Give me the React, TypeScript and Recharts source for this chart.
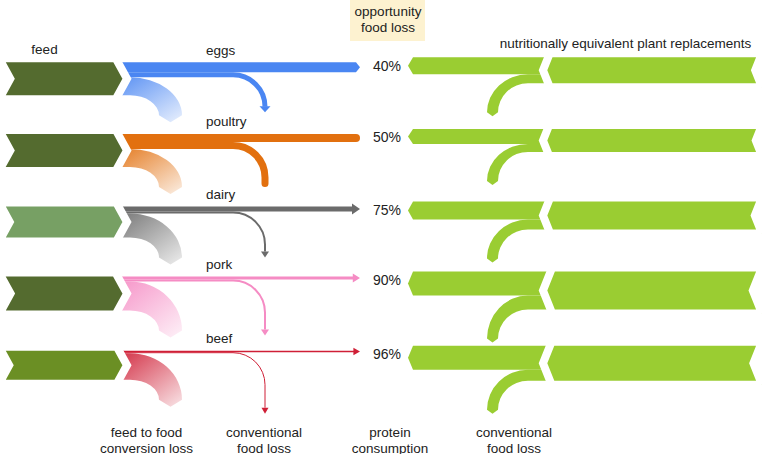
import { ScatterChart, Scatter, XAxis, YAxis } from "recharts";

// rows, top to bottom
const animals = ["eggs", "poultry", "dairy", "pork", "beef"];
// opportunity food loss, %
const opportunityLoss = [40, 50, 75, 90, 96];
// band widths (protein units)
const animalProtein = [10, 8, 5, 3, 1.5];
const animalFoodLoss = [5, 7, 2, 2, 1];
const conversionLoss = [18, 18, 24, 29, 26.5];
const plantProtein = [17, 15, 18, 24, 24];
const plantFoodLoss = [9, 8, 10, 14, 11];

// stages along the flow (x axis)
const stages = ["feed", "conversion", "animalLoss", "consumption", "plantLoss", "plant"];
const topLabels: Record<string, string[]> = {
  feed: ["feed"],
  consumption: ["opportunity", "food loss"],
  plant: ["nutritionally equivalent plant replacements"],
};
const bottomLabels: Record<string, string[]> = {
  conversion: ["feed to food", "conversion loss"],
  animalLoss: ["conventional", "food loss"],
  consumption: ["protein", "consumption"],
  plantLoss: ["conventional", "food loss"],
};

const rows = animals.map((animal, i) => ({
  animal,
  opportunity: opportunityLoss[i],
  protein: animalProtein[i],
  foodLoss: animalFoodLoss[i],
  conversion: conversionLoss[i],
  feed: animalProtein[i] + animalFoodLoss[i] + conversionLoss[i],
  plant: plantProtein[i],
  plantLoss: plantFoodLoss[i],
}));

const atStage = (stage: string) => rows.map((r) => ({ ...r, stage: stages.indexOf(stage) }));

const FONT = "'Liberation Sans', Arial, sans-serif";
const TEXT = "#222";
const GREEN = "#9acd32";
const HALO = 4;

const STYLE: Record<string, any> = {
  eggs: { flow: "#4a86f2", feed: "#546b2f", tip: "point", branch: "arrow", drop: 17 },
  poultry: { flow: "#e2700f", feed: "#546b2f", tip: "round", branch: "round", drop: 20 },
  dairy: { flow: "#6b6b6b", feed: "#77a064", tip: "arrow", branch: "arrow", drop: 20 },
  pork: { flow: "#f58cc4", feed: "#546b2f", tip: "arrow", branch: "arrow", drop: 25 },
  beef: { flow: "#cf1f36", feed: "#6b8f24", tip: "arrow", branch: "arrow", drop: 34 },
};

const LABEL_DX: Record<string, number> = { feed: 9, conversion: -7, animalLoss: -7.5, consumption: 0.5, plantLoss: 6.5, plant: 0 };

const FeedShape = ({ cx, cy, payload }: any) => {
  const h = payload.feed / 2 + HALO;
  const left = cx - 32.5 - HALO;
  const tip = cx + 87.5 + HALO;
  const d = h * 0.55;
  const path = `M${left},${cy - h} L${tip - d},${cy - h} L${tip},${cy} L${tip - d},${cy + h} L${left},${cy + h} L${left + d},${cy} Z`;
  return <path d={path} fill={STYLE[payload.animal].feed} stroke="#fff" strokeWidth={HALO * 2} />;
};

const FlowShape = ({ cx, cy, payload }: any) => {
  const st = STYLE[payload.animal];
  const { protein: c, foodLoss: l, conversion: v, feed } = payload;
  const top = cy - feed / 2;
  const xs = cx - 41.5;
  const xArc = cx - 23.5;
  const xDrop = cx + 111.5;
  const xEnd = cx + 206.5;
  const mid = top + c / 2;

  let main = "";
  if (st.tip === "arrow") {
    const hw = c / 2 + 3;
    const hl = 6 + c * 0.4;
    main = `M${xs},${top} H${xEnd - hl} V${mid - hw} L${xEnd},${mid} L${xEnd - hl},${mid + hw} V${top + c} H${xs} Z`;
  } else if (st.tip === "point") {
    main = `M${xs},${top} H${xEnd - 4} L${xEnd},${mid} L${xEnd - 4},${top + c} H${xs} Z`;
  } else {
    main = `M${xs},${top} H${xEnd - c / 2} A${c / 2},${c / 2} 0 0 1 ${xEnd - c / 2},${top + c} H${xs} Z`;
  }

  // conventional food loss branch
  const R = 32;
  const ym = top + c + l / 2;
  const yEnd = top + feed + st.drop;
  const headL = 6;
  const headW = l / 2 + 3;
  const branch =
    st.branch === "arrow"
      ? `M${xs},${ym} H${xDrop - R} A${R},${R} 0 0 1 ${xDrop},${ym + R} V${yEnd - headL}`
      : `M${xs},${ym} H${xDrop - R} A${R},${R} 0 0 1 ${xDrop},${ym + R} V${yEnd - l / 2}`;

  // feed to food conversion loss swoosh
  const yc0 = top + c + l;
  const yc1 = top + feed;
  const rxi = 29, rxo = 52, ryi = 20, ryo = 20 + v;
  const ycc = yc1 + ryi;
  const conv = `M${xs},${yc0} H${xArc} A${rxo},${ryo} 0 0 1 ${xArc + rxo},${ycc} L${xArc + (rxi + rxo) / 2},${ycc + 7} L${xArc + rxi},${ycc} A${rxi},${ryi} 0 0 0 ${xArc},${yc1} H${xs} Z`;
  const gid = `conv-${payload.animal}`;

  return (
    <g>
      <defs>
        <linearGradient id={gid} x1="0" y1="0" x2="1" y2="1">
          <stop offset="0%" stopColor={st.flow} stopOpacity={0.95} />
          <stop offset="100%" stopColor={st.flow} stopOpacity={0.12} />
        </linearGradient>
      </defs>
      <path d={conv} fill={`url(#${gid})`} />
      <path d={branch} fill="none" stroke={st.flow} strokeWidth={l} strokeLinecap={st.branch === "round" ? "round" : "butt"} />
      {st.branch === "arrow" && (
        <path d={`M${xDrop - headW},${yEnd - headL} L${xDrop + headW},${yEnd - headL} L${xDrop},${yEnd} Z`} fill={st.flow} />
      )}
      <path d={main} fill={st.flow} />
      <text x={cx + 52.5} y={top - 7.5} fontFamily={FONT} fontSize={13.5} fill={TEXT}>
        {payload.animal}
      </text>
    </g>
  );
};

const PercentShape = ({ cx, cy, payload }: any) => (
  <text x={cx - 16.5} y={cy - payload.feed / 2 + 8.5} fontFamily={FONT} fontSize={14} fill={TEXT}>
    {`${payload.opportunity}%`}
  </text>
);

const PlantFlowShape = ({ cx, cy, payload }: any) => {
  const { plant: pc, plantLoss: pl } = payload;
  const top = cy - payload.feed / 2 - 5;
  const rep = pc + pl;
  const xTip = cx - 99.5;
  const xRight = cx + 60;
  const consumption = `M${xRight},${top} H${xTip + 5} L${xTip},${top + pc / 2} L${xTip + 5},${top + pc} H${xRight} Z`;
  const xc = cx + 20.5;
  const rxi = 30, rxo = 41, ryi = 29, ryo = 29 + pl;
  const yl0 = top + pc;
  const yl1 = top + rep;
  const ycc = yl1 + ryi;
  const loss = `M${xRight},${yl0} H${xc} A${rxo},${ryo} 0 0 0 ${xc - rxo},${ycc} L${xc - (rxo + rxi) / 2},${ycc + 4} L${xc - rxi},${ycc} A${rxi},${ryi} 0 0 1 ${xc},${yl1} H${xRight} Z`;
  return (
    <g>
      <path d={loss} fill={GREEN} />
      <path d={consumption} fill={GREEN} />
    </g>
  );
};

const PlantShape = ({ cx, cy, payload }: any) => {
  const top = cy - payload.feed / 2 - 5 - HALO;
  const h = payload.plant + payload.plantLoss + HALO * 2;
  const mid = top + h / 2;
  const tip = cx - 78.5 - HALO;
  const right = cx + 132.5 + HALO;
  const d = (h / 2) * 0.4;
  const path = `M${tip},${mid} L${tip + d},${top} L${right},${top} L${right - d},${mid} L${right},${top + h} L${tip + d},${top + h} Z`;
  return <path d={path} fill={GREEN} stroke="#fff" strokeWidth={HALO * 2} />;
};

const TopTick = ({ x, y, payload }: any) => {
  const key = stages[payload.value];
  const lines = topLabels[key];
  if (!lines) return null;
  const tx = x + LABEL_DX[key];
  if (key === "consumption") {
    return (
      <g>
        <rect x={x - 39.5} y={y - 43} width={75} height={41} fill="#fdf2d0" />
        <text x={tx - 2} y={y - 27.5} textAnchor="middle" fontFamily={FONT} fontSize={13.5} fill={TEXT}>{lines[0]}</text>
        <text x={tx - 2} y={y - 11.5} textAnchor="middle" fontFamily={FONT} fontSize={13.5} fill={TEXT}>{lines[1]}</text>
      </g>
    );
  }
  return (
    <text x={tx} y={y + (key === "feed" ? 11 : 4.5)} textAnchor="middle" fontFamily={FONT} fontSize={13.5} fill={TEXT}>
      {lines[0]}
    </text>
  );
};

const BottomTick = ({ x, y, payload }: any) => {
  const key = stages[payload.value];
  const lines = bottomLabels[key];
  if (!lines) return null;
  const tx = x + LABEL_DX[key];
  return (
    <g>
      {lines.map((t, i) => (
        <text key={t} x={tx} y={y + 35.7 + i * 15.8} textAnchor="middle" fontFamily={FONT} fontSize={13.5} fill={TEXT}>
          {t}
        </text>
      ))}
    </g>
  );
};

const DOMAIN: [number, number] = [-0.25, 5.75];

export default function App() {
  return (
    <div style={{ position: "absolute", left: 0, top: 0, background: "#fff" }}>
      <ScatterChart width={762} height={454} margin={{ top: 42, right: 48, bottom: 52, left: 6 }}>
        <XAxis xAxisId="x" type="number" dataKey="stage" domain={DOMAIN} ticks={[1, 2, 3, 4]} interval={0}
          tick={<BottomTick />} axisLine={false} tickLine={false} tickSize={0} tickMargin={0} height={1} />
        <XAxis xAxisId="top" orientation="top" type="number" dataKey="stage" domain={DOMAIN} ticks={[0, 3, 5]} interval={0}
          tick={<TopTick />} axisLine={false} tickLine={false} tickSize={0} tickMargin={0} height={1} />
        <YAxis yAxisId="y" type="category" dataKey="animal" domain={animals} allowDuplicatedCategory={false} reversed hide />
        <Scatter xAxisId="x" yAxisId="y" data={atStage("conversion")} shape={<FlowShape />} isAnimationActive={false} />
        <Scatter xAxisId="x" yAxisId="y" data={atStage("feed")} shape={<FeedShape />} isAnimationActive={false} />
        <Scatter xAxisId="top" yAxisId="y" data={atStage("consumption")} shape={<PercentShape />} isAnimationActive={false} />
        <Scatter xAxisId="x" yAxisId="y" data={atStage("plantLoss")} shape={<PlantFlowShape />} isAnimationActive={false} />
        <Scatter xAxisId="x" yAxisId="y" data={atStage("plant")} shape={<PlantShape />} isAnimationActive={false} />
      </ScatterChart>
    </div>
  );
}
